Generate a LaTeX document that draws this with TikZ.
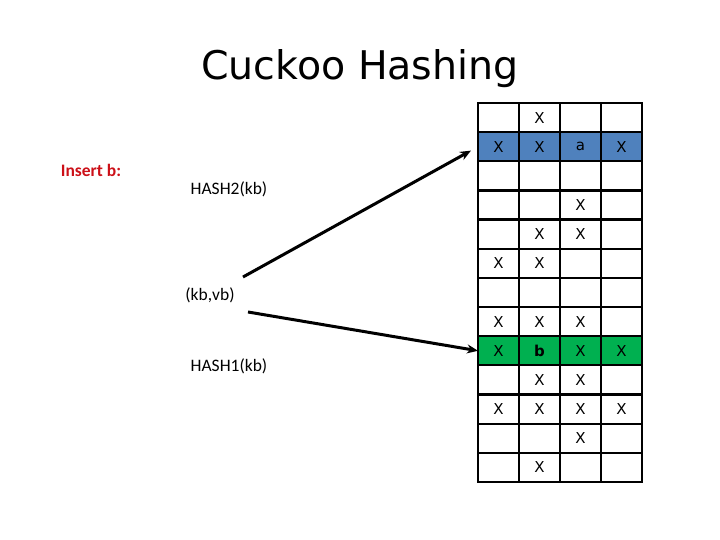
\documentclass[tikz,border=0pt]{standalone}
\usepackage{fontspec}
\setmainfont{Carlito}
\newfontfamily\titlefont{DejaVu Sans}
\newfontfamily\cellfont{DejaVu Sans}
\usetikzlibrary{arrows.meta}
\definecolor{rowblue}{RGB}{79,129,189}
\definecolor{rowgreen}{RGB}{0,176,80}
\definecolor{insred}{RGB}{204,16,24}
\begin{document}
\begin{tikzpicture}[x=1pt,y=-1pt,
  cell/.style={draw, line width=2.2pt, minimum width=41pt, minimum height=29.15pt,
    inner sep=0pt, outer sep=0pt, font=\cellfont\fontsize{15}{17}\selectfont, fill=white},
  lbl/.style={font=\fontsize{17.5}{20}\selectfont, inner sep=0pt},
  arr/.style={line width=3pt, -{Stealth[length=11pt,width=9pt]}}]
\useasboundingbox (0,0) rectangle (720,540);
\node[font=\titlefont\fontsize{39.5}{44}\selectfont, inner sep=0pt] (title) at (360,69) {Cuckoo Hashing};
\node[lbl, font=\bfseries\fontsize{17.5}{20}\selectfont, text=insred] (ins) at (91,170) {Insert b:};
\node[lbl] (h2) at (229,189) {HASH2(kb)};
\node[lbl] (kv) at (210,295) {(kb,vb)};
\node[lbl] (h1) at (229,366) {HASH1(kb)};
\foreach \row/\col [count=\r] in {
  {{},X,{},{}}/white,
  {X,X,a,X}/rowblue,
  {{},{},{},{}}/white,
  {{},{},X,{}}/white,
  {{},X,X,{}}/white,
  {X,X,{},{}}/white,
  {{},{},{},{}}/white,
  {X,X,X,{}}/white,
  {X,\textbf{b},X,X}/rowgreen,
  {{},X,X,{}}/white,
  {X,X,X,X}/white,
  {{},{},X,{}}/white,
  {{},X,{},{}}/white} {
  \foreach \t [count=\c] in \row {
    \node[cell, fill=\col] (c\r-\c) at ({478+41*(\c-0.5)},{103+29.15*(\r-0.5)}) {\t};
  }
}
\coordinate (s2) at (243,277);
\coordinate (s1) at (248,312);
\draw[arr, shorten >=8pt] (s2) -- (c2-1.west);
\draw[arr] (s1) -- (c9-1.west);
\end{tikzpicture}
\end{document}
